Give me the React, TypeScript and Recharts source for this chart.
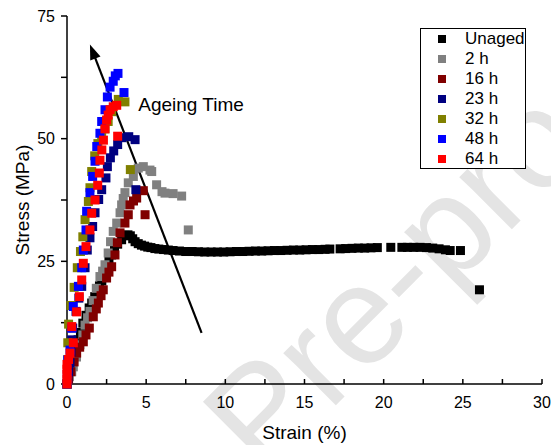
import React from 'react';
import { ScatterChart, Scatter, XAxis, YAxis, ReferenceLine, ReferenceDot } from 'recharts';

type Pt = [number, number];

const seriesNames = ['Unaged', '2 h', '16 h', '23 h', '32 h', '48 h', '64 h'];
const seriesColors = ['#000000', '#808080', '#800000', '#000080', '#808000', '#0000ff', '#ff0000'];

// strain (%), stress (MPa)
const unaged: Pt[] = [
  [0, 0], [0.1, 1.5], [0.2, 3], [0.35, 5], [0.5, 7], [0.7, 9], [0.85, 10.5], [1.0, 12.4],
  [1.2, 14], [1.4, 15.5], [1.56, 16.5], [1.75, 17.8], [1.92, 18.8], [2.05, 20], [2.2, 21],
  [2.35, 22.5], [2.5, 23.7], [2.65, 25], [2.82, 26.3], [3.0, 27.5], [3.2, 28.5], [3.45, 29.4],
  [3.66, 30.3], [3.85, 30.4], [4.0, 30.2], [4.15, 29.6], [4.3, 29], [4.5, 28.6], [4.7, 28.3],
  [4.9, 28.1], [5.1, 27.9], [5.3, 27.8], [5.55, 27.6], [5.8, 27.5], [6.1, 27.4], [6.4, 27.3],
  [6.7, 27.2], [7.1, 27.1], [7.5, 27.0], [7.9, 27.0], [8.3, 26.95], [8.7, 26.9], [9.1, 26.9],
  [9.5, 26.9], [9.9, 26.9], [10.3, 26.95], [10.7, 27], [11.1, 27], [11.5, 27.05], [11.9, 27.1],
  [12.3, 27.1], [12.7, 27.15], [13.1, 27.2], [13.5, 27.2], [13.9, 27.25], [14.3, 27.3],
  [14.7, 27.3], [15.1, 27.35], [15.5, 27.4], [15.9, 27.4], [16.3, 27.45], [16.6, 27.5],
  [17.25, 27.55], [17.6, 27.6], [18.0, 27.65], [18.4, 27.7], [18.8, 27.7], [19.2, 27.75],
  [19.6, 27.8], [20.45, 27.85], [21.15, 27.85], [21.5, 27.85], [21.9, 27.85], [22.3, 27.85],
  [22.7, 27.8], [23.1, 27.7], [23.5, 27.55], [23.9, 27.35], [24.2, 27.2], [24.85, 27.2],
  [26.05, 19.2],
];

const aged2h: Pt[] = [
  [0, 0], [0.15, 1.5], [0.3, 2.5], [0.4, 3.5], [0.6, 5.5], [0.82, 8], [1.0, 10], [1.14, 12],
  [1.3, 13.5], [1.45, 14.8], [1.65, 17], [1.85, 19.5], [2.08, 21.9], [2.25, 23], [2.4, 24.3],
  [2.6, 26.7], [2.75, 29], [2.92, 31.1], [3.14, 32.8], [3.35, 34.9], [3.45, 36.5], [3.55, 37.8],
  [3.66, 39], [3.87, 41], [4.19, 42.3], [4.5, 44], [4.82, 44.3], [5.24, 43.6], [5.35, 43.3],
  [5.66, 40.6], [6.0, 39.2], [6.19, 38.9], [6.7, 38.8], [7.24, 38.3], [7.66, 31.4],
];

const aged16h: Pt[] = [
  [0, 0], [0.1, 1], [0.25, 2.5], [0.45, 4.5], [0.61, 6.3], [0.8, 7.5], [1.03, 8.6], [1.2, 10],
  [1.41, 11.4], [1.66, 13.7], [1.85, 15.3], [1.98, 16.5], [2.15, 18], [2.29, 19.2], [2.5, 21.6],
  [2.65, 22.8], [2.82, 23.9], [3.03, 26.3], [3.18, 28.8], [3.35, 30.8], [3.66, 32.8],
  [3.87, 34.5], [3.98, 36.5], [4.2, 37.3], [4.4, 37.9], [4.82, 39.4], [4.93, 34.5],
];

const aged23h: Pt[] = [
  [0, 0], [0.05, 1], [0.1, 2.5], [0.19, 4.3], [0.25, 6.5], [0.3, 9], [0.36, 11.4], [0.57, 14.8],
  [0.75, 17.5], [0.93, 19.9], [1.14, 23.7], [1.28, 27.3], [1.45, 29.8], [1.62, 32.1],
  [1.77, 34.9], [2.0, 37.6], [2.19, 39.6], [2.46, 42], [2.55, 44.3], [2.74, 46.1], [2.95, 47.5],
  [3.2, 48.8], [3.45, 50.2], [3.9, 50.4], [4.3, 49.8], [4.35, 39.6],
];

const aged32h: Pt[] = [
  [0, 0], [0.03, 2], [0.05, 5], [0.05, 8.4], [0.1, 12.2], [0.25, 16], [0.45, 19.7], [0.65, 23.7],
  [0.85, 27], [1.0, 30], [1.14, 33.5], [1.35, 37.2], [1.45, 40], [1.56, 43.3], [1.75, 46.5],
  [1.95, 49], [2.19, 50.5], [2.4, 52], [2.6, 53.5], [2.82, 55.5], [3.24, 58], [3.66, 57.5],
  [4.0, 43.7],
];

const aged48h: Pt[] = [
  [0, 0], [0.02, 2], [0.05, 4.9], [0.19, 6.9], [0.3, 11.4], [0.4, 15.8], [0.72, 19.9],
  [0.93, 23.7], [1.03, 27.3], [1.2, 31.4], [1.24, 35.2], [1.45, 39], [1.62, 42.3], [1.77, 45.4],
  [1.88, 48.4], [2.08, 51.1], [2.19, 53.5], [2.4, 55.9], [2.55, 58.5], [2.72, 60.5], [2.92, 61.7],
  [3.05, 62.8], [3.22, 63.3], [3.6, 59.4],
];

const aged64h: Pt[] = [
  [0, 0], [0, 1], [0, 2], [0, 3], [0, 4], [0.1, 5], [0.19, 6.3], [0.4, 8.4], [0.3, 11.7],
  [0.61, 14.7], [0.78, 17.8], [0.93, 21.2], [1.03, 24.6], [1.2, 28], [1.45, 31.4], [1.56, 34.8],
  [1.77, 37.5], [1.94, 40.5], [2.04, 43], [2.08, 45.6], [2.2, 47.7], [2.3, 49.7], [2.4, 52],
  [2.5, 53.8], [2.6, 54.8], [2.72, 55.9], [2.92, 56.5], [3.14, 56.8], [3.2, 50.5],
];

const seriesData: Pt[][] = [unaged, aged2h, aged16h, aged23h, aged32h, aged48h, aged64h];

const xTicks = [0, 2.5, 5, 7.5, 10, 12.5, 15, 17.5, 20, 22.5, 25, 27.5, 30];
const yTicks = [0, 12.5, 25, 37.5, 50, 62.5, 75];

const arrowTail = { x: 8.5, y: 10.4 };
const arrowHead = { x: 1.45, y: 69.2 };
const noteText = 'Ageing Time';
const notePos = { x: 4.5, y: 57 };

const FONT = 'Arial, "Liberation Sans", sans-serif';

const square = (color: string) => (props: any) => {
  const { cx, cy } = props;
  if (cx == null || cy == null) return <g />;
  return <rect x={cx - 4.5} y={cy - 4.5} width={9} height={9} fill={color} />;
};

const arrowShape = (props: any) => {
  const { x1, y1, x2, y2 } = props;
  if (x1 == null) return <g />;
  const dx = x2 - x1;
  const dy = y2 - y1;
  const len = Math.sqrt(dx * dx + dy * dy);
  const ux = dx / len;
  const uy = dy / len;
  const hl = 15;
  const hw = 5.5;
  const bx = x2 - ux * hl;
  const by = y2 - uy * hl;
  const pts = `${x2},${y2} ${bx - uy * hw},${by + ux * hw} ${bx + uy * hw},${by - ux * hw}`;
  return (
    <g>
      <line x1={x1} y1={y1} x2={bx + ux * 2} y2={by + uy * 2} stroke="#000" strokeWidth={2.2} />
      <polygon points={pts} fill="#000" />
    </g>
  );
};

const noteShape = (props: any) => {
  const { cx, cy } = props;
  if (cx == null) return <g />;
  return (
    <text x={cx} y={cy} dominantBaseline="central" fontSize={19} fontFamily={FONT} fill="#000">
      {noteText}
    </text>
  );
};

const fmt = (step: number) => (v: number) => (v % step === 0 ? String(v) : '');

function Legend() {
  return (
    <div
      style={{
        position: 'absolute',
        left: 420,
        top: 28,
        width: 106,
        height: 141,
        border: '1px solid #000',
        background: '#fff',
        fontFamily: FONT,
        fontSize: 17,
        boxSizing: 'border-box',
      }}
    >
      {seriesNames.map((name, i) => (
        <div key={name} style={{ position: 'absolute', left: 0, top: i * 20, height: 20, width: '100%' }}>
          <div
            style={{
              position: 'absolute',
              left: 17,
              top: 6,
              width: 8,
              height: 8,
              background: seriesColors[i],
            }}
          />
          <div style={{ position: 'absolute', left: 44, top: 0, lineHeight: '20px', color: '#000' }}>{name}</div>
        </div>
      ))}
    </div>
  );
}

export default function App() {
  const tickStyle = { fill: '#000', fontSize: 16, fontFamily: FONT };
  return (
    <div style={{ position: 'absolute', left: 0, top: 0, width: 551, height: 445, background: '#fff', overflow: 'hidden' }}>
      <svg width={551} height={445} style={{ position: 'absolute', left: 0, top: 0 }}>
        {/* watermark */}
        <text
          x={263}
          y={478}
          transform="rotate(-45 263 478)"
          fontSize={140}
          fontFamily={FONT}
          fill="#e4e4e4"
        >
          Pre-proof
        </text>
      </svg>
      <div style={{ position: 'absolute', left: 0, top: 0 }}>
        <ScatterChart width={551} height={445} margin={{ top: 16, right: 9, bottom: 31, left: 27 }}>
          <XAxis
            type="number"
            dataKey="x"
            domain={[0, 30]}
            ticks={xTicks}
            interval={0}
            tickFormatter={fmt(5)}
            tickSize={-5}
            tickMargin={18}
            height={30}
            stroke="#000"
            strokeWidth={1.5}
            tick={tickStyle}
            label={(p: any) => {
              const vb = p.viewBox;
              return (
                <text x={vb.x + vb.width / 2} y={439} textAnchor="middle" fontSize={19} fontFamily={FONT} fill="#000">
                  Strain (%)
                </text>
              );
            }}
          />
          <XAxis
            xAxisId="top"
            orientation="top"
            type="number"
            dataKey="x"
            domain={[0, 30]}
            ticks={xTicks}
            interval={0}
            tick={false}
            tickSize={-5}
            height={0}
            stroke="#000"
            strokeWidth={1.5}
          />
          <YAxis
            type="number"
            dataKey="y"
            domain={[0, 75]}
            ticks={yTicks}
            interval={0}
            tickFormatter={fmt(25)}
            tickSize={6}
            tickMargin={6}
            width={40}
            stroke="#000"
            strokeWidth={1.5}
            tick={tickStyle}
            label={(p: any) => {
              const vb = p.viewBox;
              const cy = vb.y + vb.height / 2;
              return (
                <text
                  x={22}
                  y={cy}
                  transform={`rotate(-90 22 ${cy})`}
                  textAnchor="middle"
                  dominantBaseline="central"
                  fontSize={19}
                  fontFamily={FONT}
                  fill="#000"
                >
                  Stress (MPa)
                </text>
              );
            }}
          />
          <YAxis
            yAxisId="right"
            orientation="right"
            type="number"
            dataKey="y"
            domain={[0, 75]}
            ticks={yTicks}
            interval={0}
            tick={false}
            tickSize={-5}
            width={0}
            stroke="#000"
            strokeWidth={1.5}
          />
          {seriesData.map((d, i) => (
            <Scatter
              key={seriesNames[i]}
              name={seriesNames[i]}
              data={d.map(([x, y]) => ({ x, y }))}
              fill={seriesColors[i]}
              shape={square(seriesColors[i])}
              isAnimationActive={false}
            />
          ))}
          <ReferenceLine
            segment={[arrowTail, arrowHead]}
            stroke="#000"
            shape={arrowShape}
          />
          <ReferenceDot x={notePos.x} y={notePos.y} r={0} shape={noteShape} />
        </ScatterChart>
      </div>
      <Legend />
    </div>
  );
}
